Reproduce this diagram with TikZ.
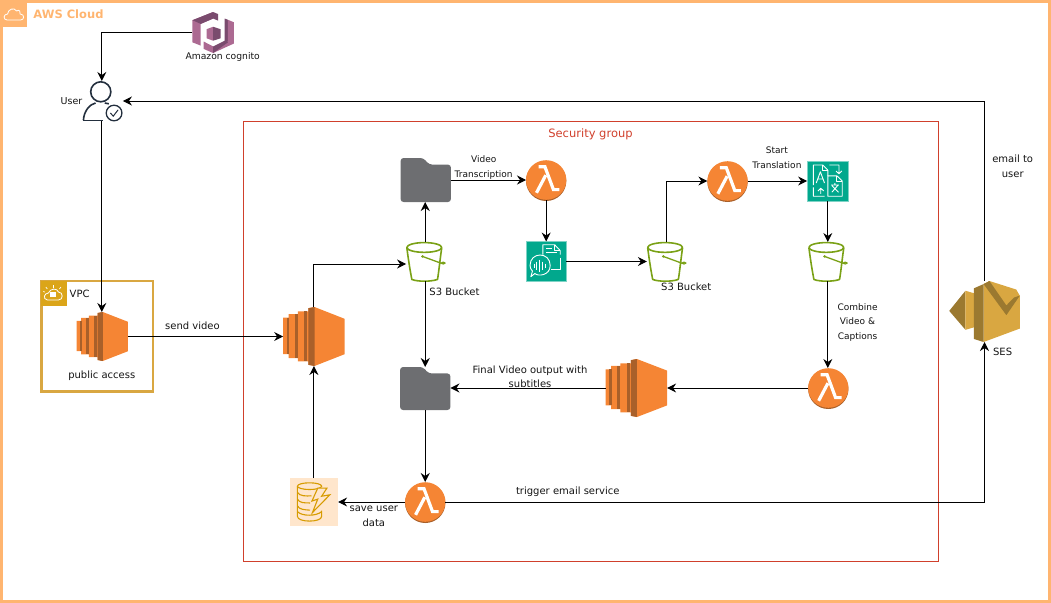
\documentclass[tikz,border=0pt]{standalone}
\usepackage{fontspec}
\setmainfont{DejaVu Sans}
\usetikzlibrary{arrows.meta,fit}
\definecolor{awsframe}{HTML}{FFB570}
\definecolor{sgred}{HTML}{D0402C}
\definecolor{ecorange}{HTML}{F58534}
\definecolor{ecdark}{HTML}{A9602A}
\definecolor{foldergrey}{HTML}{6D6E71}
\definecolor{bucketgreen}{HTML}{7AA116}
\definecolor{aiteal}{HTML}{01A88D}
\definecolor{aiedge}{HTML}{7FD3C6}
\definecolor{dynfill}{HTML}{FFE6CC}
\definecolor{dynline}{HTML}{D79B00}
\definecolor{sesl}{HTML}{D9A741}
\definecolor{sesd}{HTML}{9B7930}
\definecolor{cogl}{HTML}{AC6A92}
\definecolor{cogd}{HTML}{7A4B6E}
\definecolor{usercol}{HTML}{232F3E}
\definecolor{vpcgold}{HTML}{D9A741}
\tikzset{
  conn/.style={-{Stealth[length=9pt,width=9pt,inset=3pt]},line width=1pt,black},
  box/.style={inner sep=0pt,outer sep=0pt},
  lbl/.style={inner sep=0pt,align=center,text=black!92,font=\fontsize{10}{14}\selectfont},
  lblsmall/.style={inner sep=0pt,align=center,text=black!92,font=\fontsize{9}{15}\selectfont},
  bucketline/.style={draw=bucketgreen,line width=1.6pt,line join=round},
  aiw/.style={draw=white,line width=.9pt,line join=round},
  dynl/.style={draw=dynline,line width=1.1pt},
}
% \icon{name}{x1}{y1}{x2}{y2}{drawing in a unit square}
\newcommand{\icon}[6]{%
  \node[box,fit={(#2,#3) (#4,#5)}] (#1) {};
  \begin{scope}[shift={(#2,#3)},xscale=#4-#2,yscale=#5-#3]#6\end{scope}}
\newcommand{\ecshape}{%
  \fill[ecorange] (0,.18)--(.09,.18)--(.09,.12)--(.24,.12)--(.24,.075)--(.41,.075)--(.41,.02)--(.51,0)--(1,.2)--(1,.8)--(.51,1)--(.41,.98)--(.41,.92)--(.24,.92)--(.24,.865)--(.09,.865)--(.09,.8)--(0,.8)--cycle;
  \fill[ecdark] (.06,.18) rectangle (.1,.8);
  \fill[ecdark] (.19,.12) rectangle (.24,.865);
  \fill[ecdark] (.34,.075) rectangle (.39,.92);
  \fill[ecdark] (.41,.02)--(.51,0)--(.51,1)--(.41,.98)--cycle;}
\newcommand{\foldershape}{%
  \fill[foldergrey,rounded corners=3pt] (0,1)--(0,0)--(.45,0)--(.57,.15)--(1,.15)--(1,1)--cycle;}
\newcommand{\lambdashape}{%
  \fill[ecdark] (.5,.525) circle [x radius=.5,y radius=.5];
  \fill[ecorange] (.5,.5) circle [x radius=.5,y radius=.495];
  \draw[white,line width=3.2pt,miter limit=10] (.31,.17)--(.47,.17)--(.68,.74)--(.83,.74);
  \draw[white,line width=3.2pt] (.26,.82)--(.49,.38);}
\newcommand{\bucketshape}{%
  \draw[bucketline,line width=1.3pt] (.43,.37)--(.93,.55);
  \draw[bucketline,line width=1.2pt] (.97,.54) circle [x radius=.05,y radius=.025];
  \draw[bucketline] (.02,.15) .. controls (.08,.6) and (.12,.8) .. (.15,.96)
     .. controls (.3,1.02) and (.65,1.02) .. (.82,.96)
     .. controls (.85,.8) and (.88,.5) .. (.93,.15);
  \draw[bucketline] (.475,.14) circle [x radius=.455,y radius=.125];
  \fill[bucketgreen] (.43,.37) circle [x radius=.04,y radius=.035];}
\begin{document}
\begin{tikzpicture}[x=1.00767pt,y=-1pt]
\useasboundingbox (0,0) rectangle (1043,603);
% AWS Cloud frame
\node[box,draw=awsframe,line width=3pt,fit={(1.5,1.5) (1041.5,601.5)}] (cloud) {};
\fill[awsframe] (0,0) rectangle (27,27);
\draw[white,line width=.8pt,line join=round] (7,20) .. controls (3,20) and (3,14) .. (7.5,14)
  .. controls (8,9) and (14,7) .. (16.5,11) .. controls (19,9) and (21,12) .. (20,14)
  .. controls (24.5,14) and (24.5,20) .. (20.5,20) -- cycle;
\node[inner sep=0pt,anchor=west,text=awsframe,font=\bfseries\fontsize{11.5}{14}\selectfont] (cloudlbl) at (33,14.5) {AWS Cloud};
% Security group
\node[box,draw=sgred,line width=.9pt,fit={(241.5,121.5) (931.5,561)}] (sg) {};
\node[inner sep=0pt,text=sgred,font=\fontsize{11.5}{14}\selectfont] (sglbl) at (586,134.5) {Security group};
% Cognito
\icon{cognito}{191}{12}{232}{53}{
  \fill[cogl] (0,.2)--(.5,0)--(.5,.16)--(.2,.29)--(.2,.82)--(0,.74)--cycle;
  \fill[cogd] (0,.2)--(.2,.29)--(.5,.16)--(.62,.21)--(.62,.05)--(.5,0)--cycle;
  \fill[cogd] (.78,.16)--(.78,.78)--(.86,.82)--(.86,.19)--cycle;
  \fill[cogl] (.86,.19)--(1,.25)--(1,.77)--(.5,1)--(.5,.88)--(.86,.72)--cycle;
  \fill[cogl] (.27,.72)--(.5,.84)--(.5,1)--(.27,.9)--cycle;
  \fill[cogd] (.5,.84)--(.78,.7)--(.86,.74)--(.5,1)--cycle;
  \fill[cogl] (.34,.42)--(.5,.36)--(.5,.7)--(.34,.64)--cycle;
  \fill[cogd] (.5,.36)--(.68,.42)--(.68,.64)--(.5,.7)--cycle;
}
\node[lbl,font=\fontsize{9.2}{12}\selectfont] (cognitolbl) at (221,57) {Amazon cognito};
% User
\icon{user}{82}{81}{122}{121}{
  \draw[usercol,line width=1.6pt,fill=white] (.45,.27) circle [x radius=.25,y radius=.25];
  \draw[usercol,line width=1.6pt] (.02,.98) .. controls (.03,.75) and (.18,.58) .. (.32,.55)
     (.55,.55) -- (.65,.57);
  \draw[usercol,line width=1.6pt] (.02,.985) -- (.5,.985);
  \draw[usercol,line width=1.3pt,fill=white] (.78,.8) circle [x radius=.195,y radius=.195];
  \draw[usercol,line width=1pt] (.69,.8)--(.76,.88)--(.88,.72);
}
\node[lbl,font=\fontsize{9.5}{12}\selectfont] (userlbl) at (71,101.5) {User};
% VPC
\node[box,draw=vpcgold,line width=2.4pt,fit={(41,281) (152,391.5)}] (vpc) {};
\fill[dynline!90!white] (41,281) rectangle (66,306);
\draw[white,line width=.8pt] (47,300) .. controls (42,299) and (44,293) .. (48,293)
  .. controls (50,288) and (57,288) .. (58,292) .. controls (63,292) and (63,300) .. (58,300) -- cycle;
\fill[white] (50,292) rectangle (56,297);
\draw[white,line width=.7pt] (53,288) -- (53,285) (47,289)--(45.5,287) (59,289)--(60.5,287) (44.5,292)--(43,291.5);
\node[lbl] (vpclbl) at (79,293.5) {VPC};
\icon{ecpublic}{76}{312}{127}{361}{\ecshape}
\node[lbl] (publbl) at (101,376) {public access};
% EC2 boxes
\icon{ecmain}{281}{307}{342}{366}{\ecshape}
\icon{ecfinal}{601}{359}{662}{417}{\ecshape}
% Folders
\icon{foldertop}{397.5}{158}{447.5}{202}{\foldershape}
\icon{folderbot}{397}{367}{447}{410}{\foldershape}
% Lambdas
\icon{lamone}{522}{160}{562}{200}{\lambdashape}
\icon{lamtwo}{702}{161}{742}{201}{\lambdashape}
\icon{lamthree}{802}{368}{842}{408}{\lambdashape}
\icon{lamfour}{402}{482}{442}{522}{\lambdashape}
% Buckets
\icon{bucketone}{403}{242}{441}{281}{\bucketshape}
\icon{buckettwo}{642}{242}{680}{281}{\bucketshape}
\icon{bucketthree}{802}{242}{840}{281}{\bucketshape}
% Transcribe
\icon{transcribe}{522}{241.5}{562}{281.5}{
  \draw[aiedge,fill=aiteal,line width=.6pt] (0,0) rectangle (1,1);
  \draw[aiw] (.42,.33)--(.42,.08)--(.71,.08)--(.85,.23)--(.85,.33);
  \draw[aiw] (.71,.08)--(.71,.23)--(.85,.23);
  \draw[aiw] (.5,.18)--(.64,.18) (.5,.28)--(.76,.28);
  \draw[aiw] (.85,.4)--(.85,.71)--(.62,.71);
  \draw[aiw] (.1,.6) .. controls (.1,.25) and (.6,.25) .. (.6,.6) .. controls (.6,.85) and (.3,.88) .. (.22,.8)
     -- (.12,.88) -- (.16,.74) .. controls (.12,.7) and (.1,.65) .. (.1,.6) -- cycle;
  \draw[white,line width=1pt] (.2,.55)--(.2,.65) (.27,.5)--(.27,.7) (.34,.45)--(.34,.75) (.41,.5)--(.41,.7) (.48,.55)--(.48,.65);
}
% Translate
\icon{translate}{801}{161}{842}{201}{
  \draw[aiedge,fill=aiteal,line width=.6pt] (0,0) rectangle (1,1);
  \draw[aiw] (.15,.6)--(.15,.1)--(.38,.1)--(.5,.23)--(.5,.37);
  \draw[aiw] (.38,.1)--(.38,.23)--(.5,.23);
  \draw[aiw] (.22,.55)--(.32,.27)--(.42,.55) (.26,.45)--(.38,.45);
  \draw[aiw] (.5,1-.12)--(.5,.37)--(.72,.37)--(.85,.5)--(.85,.88)--cycle;
  \draw[aiw] (.72,.37)--(.72,.5)--(.85,.5);
  \draw[aiw] (.58,.6)--(.77,.6) (.67,.55)--(.67,.6) (.6,.78)--(.75,.6) (.6,.62)--(.76,.78);
  \draw[aiw] (.54,.1)--(.77,.1)--(.77,.32) (.7,.25)--(.77,.32)--(.84,.25);
  \draw[aiw] (.15,.66)--(.15,.88)--(.42,.88) (.33,.82) -- (.33,.68) -- (.26,.75) (.33,.68) -- (.4,.75);
}
% DynamoDB
\icon{dynamo}{287.5}{478}{335.5}{526}{
  \fill[dynfill] (0,0) rectangle (1,1);
  \draw[dynl] (.41,.17) ellipse [x radius=.25,y radius=.07];
  \draw[dynl] (.16,.17)--(.16,.8) .. controls (.16,.93) and (.66,.93) .. (.66,.8)--(.66,.68);
  \draw[dynl] (.16,.3) .. controls (.2,.38) and (.35,.38) .. (.45,.37);
  \draw[dynl] (.16,.44) .. controls (.2,.52) and (.3,.52) .. (.42,.52);
  \draw[dynl] (.16,.58) .. controls (.2,.66) and (.3,.66) .. (.42,.67);
  \draw[dynl] (.16,.7) .. controls (.25,.8) and (.55,.8) .. (.66,.7);
  \draw[dynl,fill=dynfill] (.58,.21)--(.46,.48)--(.58,.44)--(.47,.72)--(.83,.35)--(.66,.38)--(.77,.21)--cycle;
}
% SES
\icon{ses}{942}{281}{1012}{342}{
  \fill[sesd] (0,.49)--(.23,.16)--(.23,.8)--cycle;
  \fill[sesl] (.23,.16)--(.35,.2)--(.35,.76)--(.23,.8)--cycle;
  \fill[sesl] (.487,.05)--(.57,0)--(.95,.14)--(1,.24)--(1,.78)--(.487,1)--cycle;
  \fill[sesd] (.35,.12)--(.487,.05)--(.487,1)--(.35,.95)--cycle;
  \fill[sesd] (.487,.05)--(.57,0)--(.81,.4)--(.92,.27)--(1,.24)--(.81,.56)--cycle;
}
\node[lbl] (seslbl) at (995,352) {SES};
% Connectors
\draw[conn] (cognito.west) -| (user.north -| 101,81);
\draw[conn] (user.south -| 101,121) -- (ecpublic.north -| 101,312);
\draw[conn] (ecpublic.east) -- (ecmain.west);
\draw[conn] (ecmain.north) |- ([yshift=-2.5pt]bucketone.west);
\draw[conn] (bucketone.north) -- (foldertop.south -| bucketone.north);
\draw[conn] (foldertop.east |- lamone.west) -- (lamone.west);
\draw[conn] (lamone.south) -- (transcribe.north);
\draw[conn] (transcribe.east) -- (buckettwo.west);
\draw[conn] (buckettwo.north) |- (lamtwo.west);
\draw[conn] (lamtwo.east) -- (translate.west);
\draw[conn] (translate.south) -- (bucketthree.north -| translate.south);
\draw[conn] (bucketthree.south -| translate.south) -- (lamthree.north -| translate.south);
\draw[conn] (lamthree.west) -- (ecfinal.east);
\draw[conn] (ecfinal.west) -- (folderbot.east |- ecfinal.west);
\draw[conn] (bucketone.south -| folderbot.north) -- (folderbot.north);
\draw[conn] (folderbot.south) -- (lamfour.north -| folderbot.south);
\draw[conn] (lamfour.west) -- (dynamo.east);
\draw[conn] (dynamo.north) -- (ecmain.south -| dynamo.north);
\draw[conn] (lamfour.east) -| (ses.south);
\draw[conn] (ses.north) |- (user.east);
% Labels
\node[lbl] (sendlbl) at (191,326) {send video};
\node[lblsmall] (vidlbl) at (480,167.5) {Video\\Transcription};
\node[lblsmall] (startlbl) at (771,157.5) {Start\\Translation};
\node[lbl,font=\fontsize{9}{14.5}\selectfont] (combinelbl) at (851,322.5) {Combine\\Video \&\\Captions};
\node[lbl] (s3a) at (451,291.5) {S3 Bucket};
\node[lbl] (s3b) at (681,286.5) {S3 Bucket};
\node[lbl] (finallbl) at (526,376.5) {Final Video output with\\subtitles};
\node[lbl,font=\fontsize{10}{15}\selectfont] (savelbl) at (371,516.5) {save user\\data};
\node[lbl] (triglbl) at (563.5,492) {trigger email service};
\node[lbl,font=\fontsize{10}{15}\selectfont] (emaillbl) at (1005,166.5) {email to\\user};
\end{tikzpicture}
\end{document}
